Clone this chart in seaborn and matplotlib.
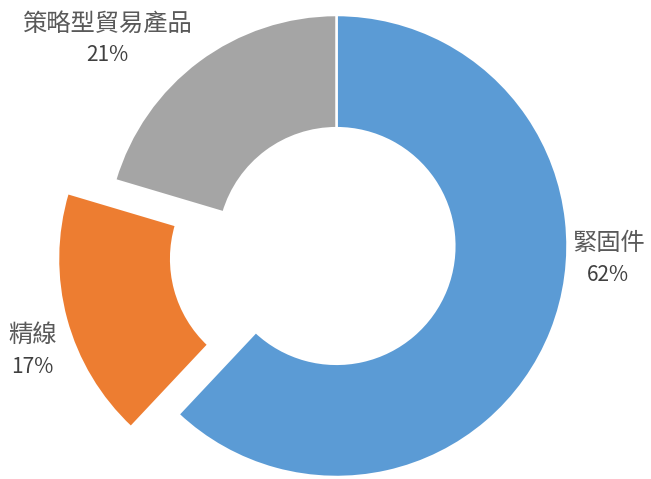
import matplotlib
matplotlib.use("Agg")
import matplotlib.pyplot as plt
import seaborn as sns

# Data (slice sizes as drawn; labels as printed)
categories = ["緊固件", "精線", "策略型貿易產品"]
shares = [62.0, 17.6, 20.4]
pct_labels = ["62%", "17%", "21%"]

# Styling / layout
colors = ["#5B9BD5", "#ED7D31", "#A5A5A5"]
explode = [0, 0.213, 0]
label_xy = [(1.177, -0.054), (-1.316, -0.452), (-0.991, 0.895)]

sns.set_theme(style="white")
plt.rcParams["font.family"] = ["Noto Sans CJK TC", "DejaVu Sans"]

fig = plt.figure(figsize=(6.51, 4.79), dpi=100)
ax = fig.add_axes([0, 0, 1, 1])
ax.pie(shares, colors=colors, explode=explode, startangle=90,
       counterclock=False, radius=1.0,
       wedgeprops=dict(width=0.49, edgecolor="white", linewidth=1.8))

for (x, y), name, pct in zip(label_xy, categories, pct_labels):
    ax.text(x, y + 0.066, name, ha="center", va="center",
            fontsize=17.5, color="#595959")
    ax.text(x, y - 0.07, pct, ha="center", va="center",
            fontsize=15, color="#404040")

ax.set_xlim(-336.5 / 231, (651 - 336.5) / 231)
ax.set_ylim(-(479 - 246) / 231, 246 / 231)
ax.set_aspect("auto")
ax.axis("off")
fig.savefig("out.png", dpi=100)
